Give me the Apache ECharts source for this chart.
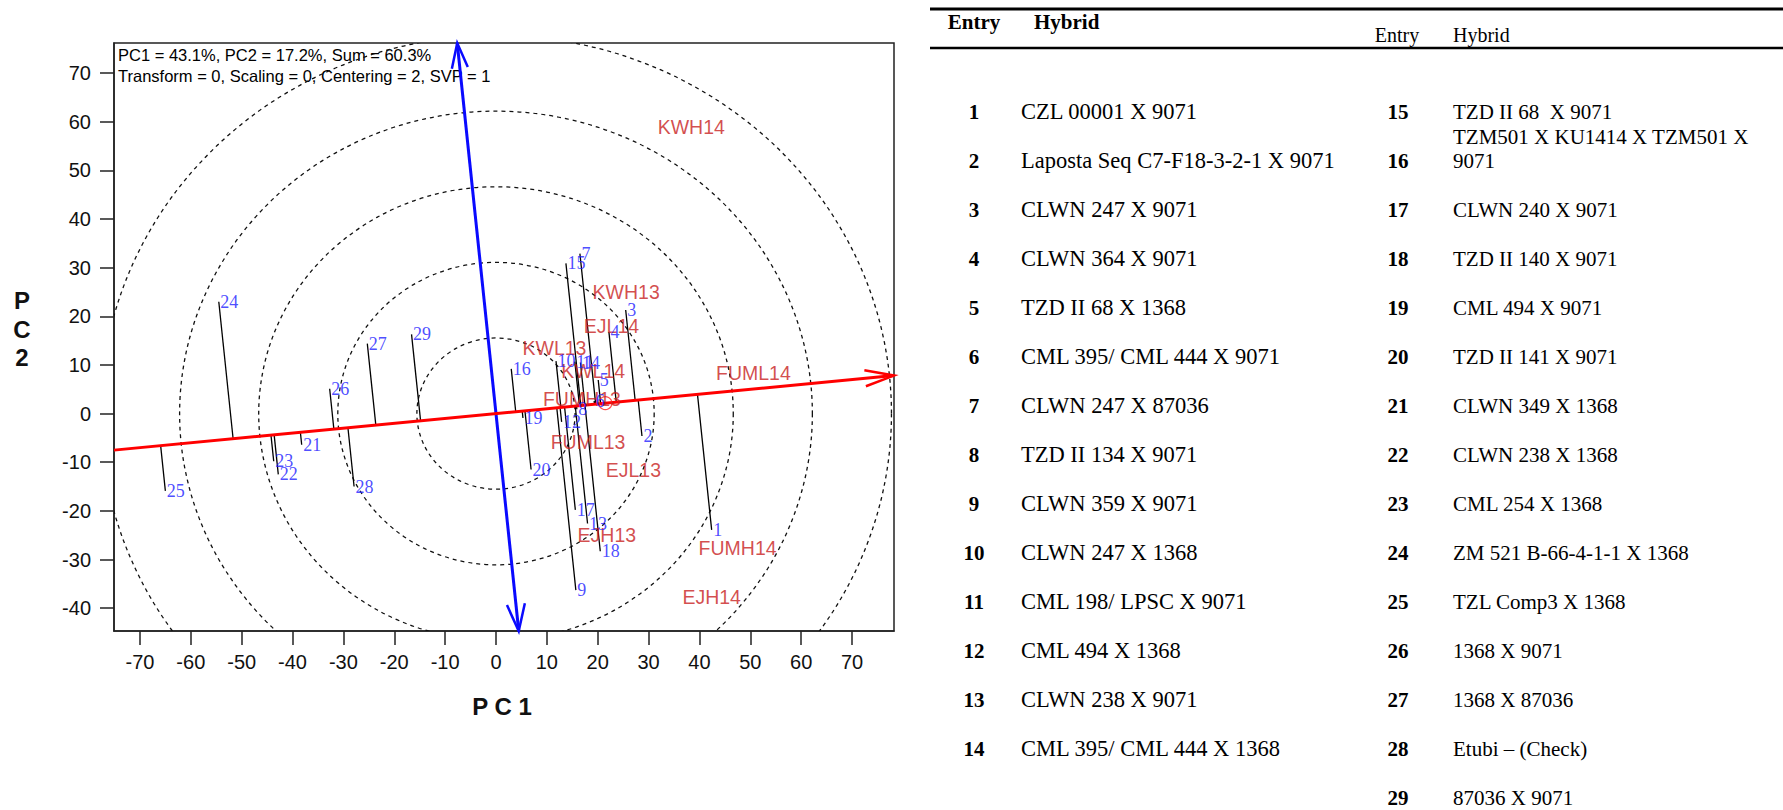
<!DOCTYPE html>
<html>
<head>
<meta charset="utf-8">
<title>GGE biplot – mean vs. stability</title>
<script src="https://cdn.jsdelivr.net/npm/echarts@6/dist/echarts.min.js"></script>
<style>
  html, body { margin: 0; padding: 0; background: #ffffff; }
  #chart { width: 1783px; height: 810px; }
</style>
</head>
<body>
<div id="chart"></div>
<script>
// ---- Genotype scores on the first two principal components ----
const genotypeIds = ['1','2','3','4','5','6','7','8','9','10','11','12','13','14','15',
                     '16','17','18','19','20','21','22','23','24','25','26','27','28','29'];
const genotypePC1 = [42.4, 28.7, 25.5, 22.2, 20.1, 19.3, 16.5, 15.9, 15.7, 11.8,
                     15.5, 12.9, 18.0, 16.6, 13.75, 3.0, 15.6, 20.5, 5.3, 6.9,
                     -38.2, -42.8, -43.7, -54.5, -65.0, -32.7, -25.3, -27.9, -16.6];
const genotypePC2 = [-23.9, -4.6, 21.3, 16.8, 6.9, 2.6, 32.9, 0.9, -36.3, 10.8,
                     10.7, -1.7, -22.6, 10.5, 30.9, 9.2, -19.8, -28.3, -0.9, -11.5,
                     -6.4, -12.5, -9.8, 23.0, -15.9, 5.1, 14.4, -15.0, 16.3];

// ---- Environment scores ----
const envNames = ['KWH14','KWH13','EJL14','KWL13','KWL14','FUML14',
                  'FUMH13','FUML13','EJL13','EJH13','FUMH14','EJH14'];
const envPC1 = [38.4, 25.6, 22.7, 11.5, 19.1, 50.6, 16.9, 18.1, 27.0, 21.8, 47.5, 42.4];
const envPC2 = [58.9, 24.9, 18.0, 13.4, 8.7, 8.4, 2.9, -5.8, -11.6, -25.0, -27.6, -37.8];

// ---- Average-environment axis (slope through the origin) and its marker ----
const aeaSlope = 0.1;
const aecPoint = [21.5, 2.15];

// ---- Concentric reference circles around the origin ----
const circleRadii = [15.55, 31.1, 46.65, 62.2, 77.75];

// ---- Axis extents and tick labels ----
const xRange = [-75.1, 78.25];
const yRange = [-44.7, 76.2];
const xTicks = [-70, -60, -50, -40, -30, -20, -10, 0, 10, 20, 30, 40, 50, 60, 70];
const yTicks = [-40, -30, -20, -10, 0, 10, 20, 30, 40, 50, 60, 70];
const noteLines = ['PC1 = 43.1%, PC2 = 17.2%, Sum = 60.3%',
                   'Transform = 0, Scaling = 0, Centering = 2, SVP = 1'];

// ---- Entry table ----
const entryNumbers = ['1','2','3','4','5','6','7','8','9','10','11','12','13','14','15',
                      '16','17','18','19','20','21','22','23','24','25','26','27','28','29'];
const hybridNames = [
  'CZL 00001 X 9071',
  'Laposta Seq C7-F18-3-2-1 X 9071',
  'CLWN 247 X 9071',
  'CLWN 364 X 9071',
  'TZD II 68 X 1368',
  'CML 395/ CML 444 X 9071',
  'CLWN 247 X 87036',
  'TZD II 134 X 9071',
  'CLWN 359 X 9071',
  'CLWN 247 X 1368',
  'CML 198/ LPSC X 9071',
  'CML 494 X 1368',
  'CLWN 238 X 9071',
  'CML 395/ CML 444 X 1368',
  'TZD II 68  X 9071',
  'TZM501 X KU1414 X TZM501 X\n9071',
  'CLWN 240 X 9071',
  'TZD II 140 X 9071',
  'CML 494 X 9071',
  'TZD II 141 X 9071',
  'CLWN 349 X 1368',
  'CLWN 238 X 1368',
  'CML 254 X 1368',
  'ZM 521 B-66-4-1-1 X 1368',
  'TZL Comp3 X 1368',
  '1368 X 9071',
  '1368 X 87036',
  'Etubi \u2013 (Check)',
  '87036 X 9071'
];

// ---------------------------------------------------------------
const SANS = '"Liberation Sans", Arial, sans-serif';
const SERIF = '"Liberation Serif", "Times New Roman", serif';
const GENO_BLUE = '#2020ff';
const ENV_RED = '#c81e1e';

// open "V" arrow head whose tip is at `tip`, pointing away from `from`
function arrowHead(tip, from, len, half, color, width) {
  const dx = tip[0] - from[0], dy = tip[1] - from[1];
  const d = Math.hypot(dx, dy) || 1;
  const ux = dx / d, uy = dy / d, nx = -uy, ny = ux;
  return {
    type: 'polyline',
    shape: { points: [
      [tip[0] - len * ux + half * nx, tip[1] - len * uy + half * ny],
      tip,
      [tip[0] - len * ux - half * nx, tip[1] - len * uy - half * ny]
    ] },
    style: { stroke: color, lineWidth: width, fill: 'none' }
  };
}

// dashed rings, drawn in data units (they become slightly elliptic on screen)
function renderRing(params, api) {
  const r = api.value(0);
  const c = api.coord([0, 0]);
  const rx = api.size([r, 0])[0];
  const ry = api.size([0, r])[1];
  return {
    type: 'circle',
    x: c[0], y: c[1],
    scaleY: ry / rx,
    shape: { cx: 0, cy: 0, r: rx },
    style: { fill: 'none', stroke: '#111', lineWidth: 1.3, lineDash: [4, 4], strokeNoScale: true }
  };
}

// projection of each genotype onto the average-environment axis
function renderProjection(params, api) {
  const x = api.value(0), y = api.value(1);
  const t = (x + aeaSlope * y) / (1 + aeaSlope * aeaSlope);
  const p1 = api.coord([x, y]);
  const p2 = api.coord([t, aeaSlope * t]);
  return {
    type: 'line',
    shape: { x1: p1[0], y1: p1[1], x2: p2[0], y2: p2[1] },
    style: { stroke: '#000', lineWidth: 1.3 }
  };
}

// average-environment axis (red, arrow at the positive end) and its ordinate (blue)
function renderAxes(params, api) {
  const aStart = api.coord([xRange[0], aeaSlope * xRange[0]]);
  const aEnd = api.coord([xRange[1], aeaSlope * xRange[1]]);
  const bLow = api.coord([-aeaSlope * yRange[0], yRange[0]]);
  const bHigh = api.coord([-aeaSlope * yRange[1], yRange[1]]);
  return {
    type: 'group',
    children: [
      { type: 'line', shape: { x1: bLow[0], y1: bLow[1], x2: bHigh[0], y2: bHigh[1] },
        style: { stroke: '#0a0aff', lineWidth: 3 } },
      arrowHead(bHigh, bLow, 25, 8, '#0a0aff', 2.5),
      arrowHead(bLow, bHigh, 27, 9, '#0a0aff', 2.5),
      { type: 'line', shape: { x1: aStart[0], y1: aStart[1], x2: aEnd[0], y2: aEnd[1] },
        style: { stroke: '#ff0000', lineWidth: 3 } },
      arrowHead(aEnd, aStart, 29, 8, '#ff0000', 2.5)
    ]
  };
}

// ---- table graphics ----
const tableElements = [];
const TABLE_LEFT = 930, TABLE_RIGHT = 1783;
tableElements.push({ type: 'line', shape: { x1: TABLE_LEFT, y1: 9, x2: TABLE_RIGHT, y2: 9 },
  style: { stroke: '#000', lineWidth: 3 } });
tableElements.push({ type: 'line', shape: { x1: TABLE_LEFT, y1: 48, x2: TABLE_RIGHT, y2: 48 },
  style: { stroke: '#000', lineWidth: 2.5 } });

function tableText(text, x, y, font, align) {
  return {
    type: 'text',
    style: {
      text: text, x: x, y: y, font: font, fill: '#000',
      align: align, textAlign: align, verticalAlign: 'middle', textVerticalAlign: 'middle'
    }
  };
}
const headBold = 'bold 21px ' + SERIF;
const headReg = '20px ' + SERIF;
tableElements.push(tableText('Entry', 974, 22, headBold, 'center'));
tableElements.push(tableText('Hybrid', 1034, 22, headBold, 'left'));
tableElements.push(tableText('Entry', 1397, 35, headReg, 'center'));
tableElements.push(tableText('Hybrid', 1453, 35, headReg, 'left'));

const ROW_TOP = 111.5, ROW_STEP = 49, LINE_STEP = 23.5;
const colSpec = [
  { numX: 974, textX: 1021, textSize: 22.5, from: 0, to: 14 },
  { numX: 1398, textX: 1453, textSize: 21, from: 14, to: 29 }
];
colSpec.forEach(col => {
  for (let i = col.from; i < col.to; i++) {
    const rowY = ROW_TOP + ROW_STEP * (i - col.from);
    tableElements.push(tableText(entryNumbers[i], col.numX, rowY, 'bold 21px ' + SERIF, 'center'));
    const lines = hybridNames[i].split('\n');
    lines.forEach((ln, k) => {
      const y = rowY - LINE_STEP * (lines.length - 1 - k);
      tableElements.push(tableText(ln, col.textX, y, col.textSize + 'px ' + SERIF, 'left'));
    });
  }
});

// ---- plot annotations ----
const plotElements = [
  tableText(noteLines[0], 118, 55, '16.5px ' + SANS, 'left'),
  tableText(noteLines[1], 118, 76, '16.5px ' + SANS, 'left'),
  {
    type: 'text',
    style: { text: 'P C 1', x: 502, y: 706, font: 'bold 24px ' + SANS, fill: '#111',
      align: 'center', textAlign: 'center', verticalAlign: 'middle', textVerticalAlign: 'middle' }
  },
  {
    type: 'text',
    style: { text: 'P\nC\n2', x: 22, y: 329, font: 'bold 24px ' + SANS, fill: '#111', lineHeight: 28.5,
      align: 'center', textAlign: 'center', verticalAlign: 'middle', textVerticalAlign: 'middle' }
  }
];

const chart = echarts.init(document.getElementById('chart'), null, { renderer: 'svg' });

const axisCommon = {
  type: 'value',
  splitLine: { show: false },
  axisLine: { show: true, onZero: false, lineStyle: { color: '#222', width: 1.5 } },
  axisTick: { show: true, inside: false, length: 14, lineStyle: { color: '#222', width: 1.5 } },
};

chart.setOption({
  animation: false,
  backgroundColor: '#ffffff',
  grid: { left: 114, top: 43, width: 780, height: 588, show: true,
          borderColor: '#222', borderWidth: 1.5, containLabel: false },
  xAxis: Object.assign({}, axisCommon, {
    min: xRange[0], max: xRange[1],
    axisTick: Object.assign({}, axisCommon.axisTick, { customValues: xTicks }),
    axisLabel: { customValues: xTicks, fontSize: 20, fontFamily: SANS, color: '#111', margin: 21 }
  }),
  yAxis: Object.assign({}, axisCommon, {
    min: yRange[0], max: yRange[1],
    axisTick: Object.assign({}, axisCommon.axisTick, { customValues: yTicks }),
    axisLabel: { customValues: yTicks, fontSize: 20, fontFamily: SANS, color: '#111', margin: 23 }
  }),
  graphic: { elements: tableElements.concat(plotElements) },
  series: [
    {
      type: 'custom', name: 'rings', coordinateSystem: 'cartesian2d', clip: true, silent: true, z: 1,
      renderItem: renderRing,
      data: circleRadii.map(r => [r, 0])
    },
    {
      type: 'custom', name: 'projections', coordinateSystem: 'cartesian2d', clip: true, silent: true, z: 2,
      renderItem: renderProjection,
      data: genotypePC1.map((x, i) => [x, genotypePC2[i]])
    },
    {
      type: 'custom', name: 'axes', coordinateSystem: 'cartesian2d', clip: false, silent: true, z: 3,
      renderItem: renderAxes,
      data: [[0, 0]]
    },
    {
      type: 'scatter', name: 'average environment', silent: true, z: 4,
      symbol: 'circle', symbolSize: 13,
      itemStyle: { color: 'rgba(0,0,0,0)', borderColor: '#ff2020', borderWidth: 1.3 },
      data: [aecPoint]
    },
    {
      type: 'scatter', name: 'environments', silent: true, z: 5,
      symbolSize: 1, itemStyle: { color: 'rgba(0,0,0,0)' },
      label: { show: true, position: 'inside', formatter: '{b}', color: ENV_RED,
               fontFamily: SANS, fontSize: 19.5 },
      data: envNames.map((n, i) => ({ name: n, value: [envPC1[i], envPC2[i]] }))
    },
    {
      type: 'scatter', name: 'genotypes', silent: true, z: 6,
      symbolSize: 1, itemStyle: { color: 'rgba(0,0,0,0)' },
      label: { show: true, position: 'right', distance: 1, formatter: '{b}', color: GENO_BLUE,
               fontFamily: SERIF, fontSize: 18 },
      data: genotypeIds.map((n, i) => ({ name: n, value: [genotypePC1[i], genotypePC2[i]] }))
    }
  ]
});
</script>
</body>
</html>
